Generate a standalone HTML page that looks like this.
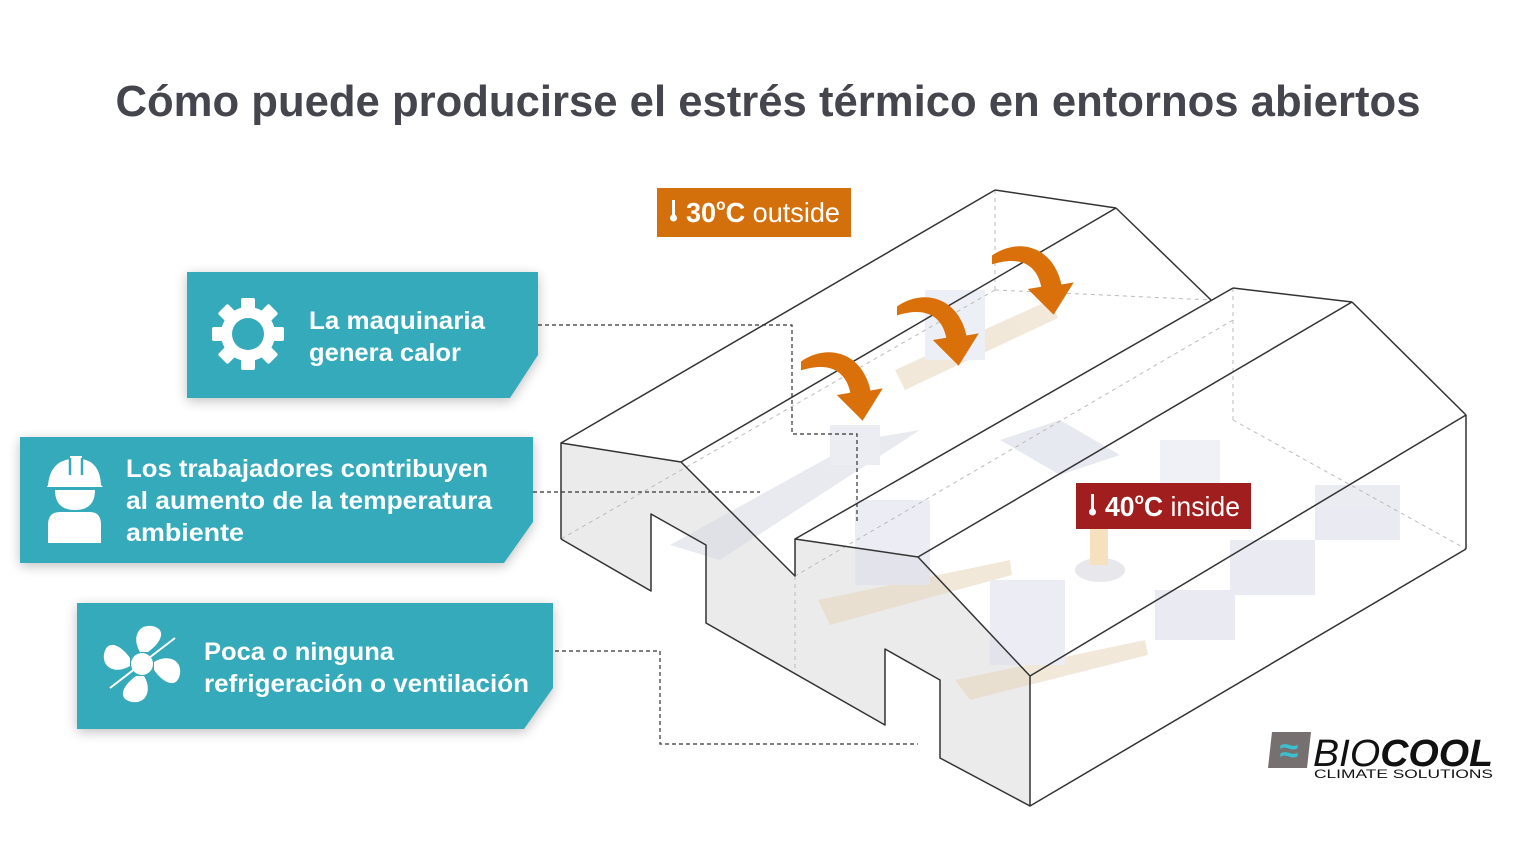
<!DOCTYPE html>
<html><head><meta charset="utf-8"><style>
html,body{margin:0;padding:0;background:#fff;}
svg{display:block;}
</style></head><body>
<svg width="1537" height="841" viewBox="0 0 1537 841" xmlns="http://www.w3.org/2000/svg" font-family="'Liberation Sans', sans-serif">
<defs>
<filter id="sh" x="-10%" y="-20%" width="120%" height="150%"><feGaussianBlur in="SourceAlpha" stdDeviation="6"/><feOffset dy="3"/><feComponentTransfer><feFuncA type="linear" slope="0.25"/></feComponentTransfer><feMerge><feMergeNode/><feMergeNode in="SourceGraphic"/></feMerge></filter>
</defs>
<rect width="1537" height="841" fill="#fff"/>
<text x="768" y="116" text-anchor="middle" font-size="44" font-weight="bold" fill="#45454d" textLength="1305" lengthAdjust="spacingAndGlyphs">Cómo puede producirse el estrés térmico en entornos abiertos</text>

<polygon points="561,443 681,462 795,576 795,539 918,557 1030,676 1030,806 940,758 940,680 885,649 885,725 706,623 706,545 651,514 651,591 561,539" fill="#e9e9e9" opacity="0.9"/>

<g opacity="0.55">
<polygon points="895,370 1050,300 1058,318 905,390" fill="#e8d7bd"/>
<rect x="925" y="290" width="60" height="70" fill="#dfe2ef"/>
<polygon points="670,545 860,440 920,430 720,560" fill="#d7d9e4"/>
<rect x="830" y="425" width="50" height="40" fill="#dcdfea"/>
<polygon points="1000,440 1060,420 1120,455 1060,475" fill="#d5d8e4"/>
<polygon points="818,600 1010,560 1012,575 830,625" fill="#e8d7bd"/>
<rect x="855" y="500" width="75" height="85" fill="#dde0ec"/>
<polygon points="955,680 1145,640 1148,655 970,700" fill="#e8d7bd"/>
<rect x="990" y="580" width="75" height="85" fill="#dde0ec"/>
<rect x="1160" y="440" width="60" height="70" fill="#e3e5ef"/>
<rect x="1155" y="590" width="80" height="50" fill="#d9dce8"/>
<rect x="1230" y="540" width="85" height="55" fill="#d9dce8"/>
<rect x="1315" y="485" width="85" height="55" fill="#d9dce8"/>
<ellipse cx="1100" cy="570" rx="25" ry="12" fill="#d5d5dd"/>
<rect x="1090" y="510" width="18" height="55" fill="#f0c98a"/>
</g>

<g stroke="#bbb" stroke-width="1" stroke-dasharray="4,4" fill="none">
<line x1="995" y1="190" x2="995" y2="290"/>
<line x1="995" y1="290" x2="1211" y2="300"/>
<line x1="1233" y1="288" x2="1233" y2="420"/>
<line x1="1233" y1="420" x2="1466" y2="549"/>
<line x1="995" y1="290" x2="561" y2="539"/>
<line x1="1233" y1="320" x2="795" y2="576"/>
<line x1="795" y1="576" x2="795" y2="670"/>
</g>

<g stroke="#333" stroke-width="1.5" fill="none" stroke-linejoin="round">
<polyline points="561,539 561,443 681,462 795,576 795,539 918,557 1030,676 1030,806 940,758 940,680 885,649 885,725 706,623 706,545 651,514 651,591 561,539"/>
<line x1="561" y1="443" x2="995" y2="190"/>
<line x1="995" y1="190" x2="1116" y2="208"/>
<line x1="681" y1="462" x2="1116" y2="208"/>
<line x1="1116" y1="208" x2="1211" y2="300"/>
<line x1="795" y1="539" x2="1233" y2="288"/>
<line x1="1233" y1="288" x2="1352" y2="302"/>
<line x1="918" y1="557" x2="1352" y2="302"/>
<line x1="1352" y1="302" x2="1466" y2="415"/>
<line x1="1466" y1="415" x2="1466" y2="549"/>
<line x1="1466" y1="549" x2="1030" y2="806"/>
<line x1="1030" y1="676" x2="1466" y2="415"/>
</g>

<g stroke="#333" stroke-width="1.2" stroke-dasharray="4,3" fill="none">
<polyline points="538,325 792,325 792,434 857,434 857,521"/>
<polyline points="533,492 760,492"/>
<polyline points="555,651 660,651 660,744 918,744"/>
</g>

<g fill="#d9700a">
<g transform="translate(801,348) scale(1.12)">
<path d="M0,12 C25,-5 55,5 62,38 L73,36 L55,65 L32,42 L44,40 C40,20 25,12 0,20 Z"/>
</g>
<g transform="translate(897,293) scale(1.12)">
<path d="M0,12 C25,-5 55,5 62,38 L73,36 L55,65 L32,42 L44,40 C40,20 25,12 0,20 Z"/>
</g>
<g transform="translate(992,242) scale(1.12)">
<path d="M0,12 C25,-5 55,5 62,38 L73,36 L55,65 L32,42 L44,40 C40,20 25,12 0,20 Z"/>
</g>
</g>

<rect x="657" y="188" width="194" height="49" fill="#d4700c"/>
<rect x="672" y="200" width="3" height="16" fill="#fff"/><circle cx="673.5" cy="218" r="3.5" fill="#fff"/>
<text x="686" y="222" font-size="28" fill="#fff" textLength="154" lengthAdjust="spacingAndGlyphs"><tspan font-weight="bold">30</tspan><tspan font-size="16" dy="-12" font-weight="bold">o</tspan><tspan dy="12" font-weight="bold">C</tspan> outside</text>
<rect x="1076" y="483" width="175" height="46" fill="#a01e1e"/>
<rect x="1091" y="494" width="3" height="16" fill="#fff"/><circle cx="1092.5" cy="512" r="3.5" fill="#fff"/>
<text x="1105" y="516" font-size="28" fill="#fff" textLength="135" lengthAdjust="spacingAndGlyphs"><tspan font-weight="bold">40</tspan><tspan font-size="16" dy="-12" font-weight="bold">o</tspan><tspan dy="12" font-weight="bold">C</tspan> inside</text>

<g filter="url(#sh)" fill="#35aabb">
<polygon points="187,272 538,272 538,355 510,398 187,398"/>
<polygon points="20,437 533,437 533,522 504,563 20,563"/>
<polygon points="77,603 553,603 553,688 524,729 77,729"/>
</g>
<g fill="#fff" font-weight="bold" font-size="25">
<text x="309" y="329" textLength="176" lengthAdjust="spacingAndGlyphs">La maquinaria</text>
<text x="309" y="361" textLength="152" lengthAdjust="spacingAndGlyphs">genera calor</text>
<text x="126" y="477" textLength="362" lengthAdjust="spacingAndGlyphs">Los trabajadores contribuyen</text>
<text x="126" y="509" textLength="366" lengthAdjust="spacingAndGlyphs">al aumento de la temperatura</text>
<text x="126" y="541" textLength="118" lengthAdjust="spacingAndGlyphs">ambiente</text>
<text x="204" y="660" textLength="190" lengthAdjust="spacingAndGlyphs">Poca o ninguna</text>
<text x="204" y="692" textLength="325" lengthAdjust="spacingAndGlyphs">refrigeración o ventilación</text>
</g>

<g transform="translate(248,334)" fill="#fff">
<g>
<rect x="-7" y="-36" width="14" height="72" rx="2"/>
<rect x="-7" y="-36" width="14" height="72" rx="2" transform="rotate(45)"/>
<rect x="-7" y="-36" width="14" height="72" rx="2" transform="rotate(90)"/>
<rect x="-7" y="-36" width="14" height="72" rx="2" transform="rotate(135)"/>
</g>
<circle r="27"/>
<circle r="16" fill="#35aabb"/>
</g>

<g fill="#fff">
<path d="M48,485 Q50,462 70,459 L70,456 L82,456 L82,459 Q100,462 101,485 L103,487 L47,487 Z"/>
<path d="M55,490 L95,490 Q95,510 75,510 Q55,510 55,490 Z"/>
<path d="M48,543 L48,525 Q48,512 60,512 L90,512 Q101,512 101,525 L101,543 Z"/>
</g>
<g stroke="#35aabb" stroke-width="2.5"><line x1="70" y1="458" x2="70" y2="475"/><line x1="82" y1="458" x2="82" y2="475"/></g>

<g transform="translate(142,664)" fill="#fff">
<circle r="11"/>
<path d="M-2,-12 C-10,-25 -5,-40 10,-38 C25,-35 20,-22 6,-12 Z"/>
<path d="M12,-2 C25,-10 40,-5 38,10 C35,25 22,20 12,6 Z"/>
<path d="M2,12 C10,25 5,40 -10,38 C-25,35 -20,22 -6,12 Z"/>
<path d="M-12,2 C-25,10 -40,5 -38,-10 C-35,-25 -22,-20 -12,-6 Z"/>
<line x1="-32" y1="24" x2="33" y2="-26" stroke="#fff" stroke-width="2"/>
</g>

<polygon points="1272,732 1311,732 1307,768 1268,768" fill="#767070"/>
<text x="1289" y="762" font-size="34" font-weight="bold" fill="#3cc0d0" text-anchor="middle">≈</text>
<text x="1313" y="766" font-size="38" fill="#111" font-style="italic" textLength="180" lengthAdjust="spacingAndGlyphs">BIO<tspan font-weight="bold">COOL</tspan></text>
<text x="1314" y="778" font-size="12" fill="#111" textLength="179" lengthAdjust="spacingAndGlyphs">CLIMATE SOLUTIONS</text>
</svg>
</body></html>
